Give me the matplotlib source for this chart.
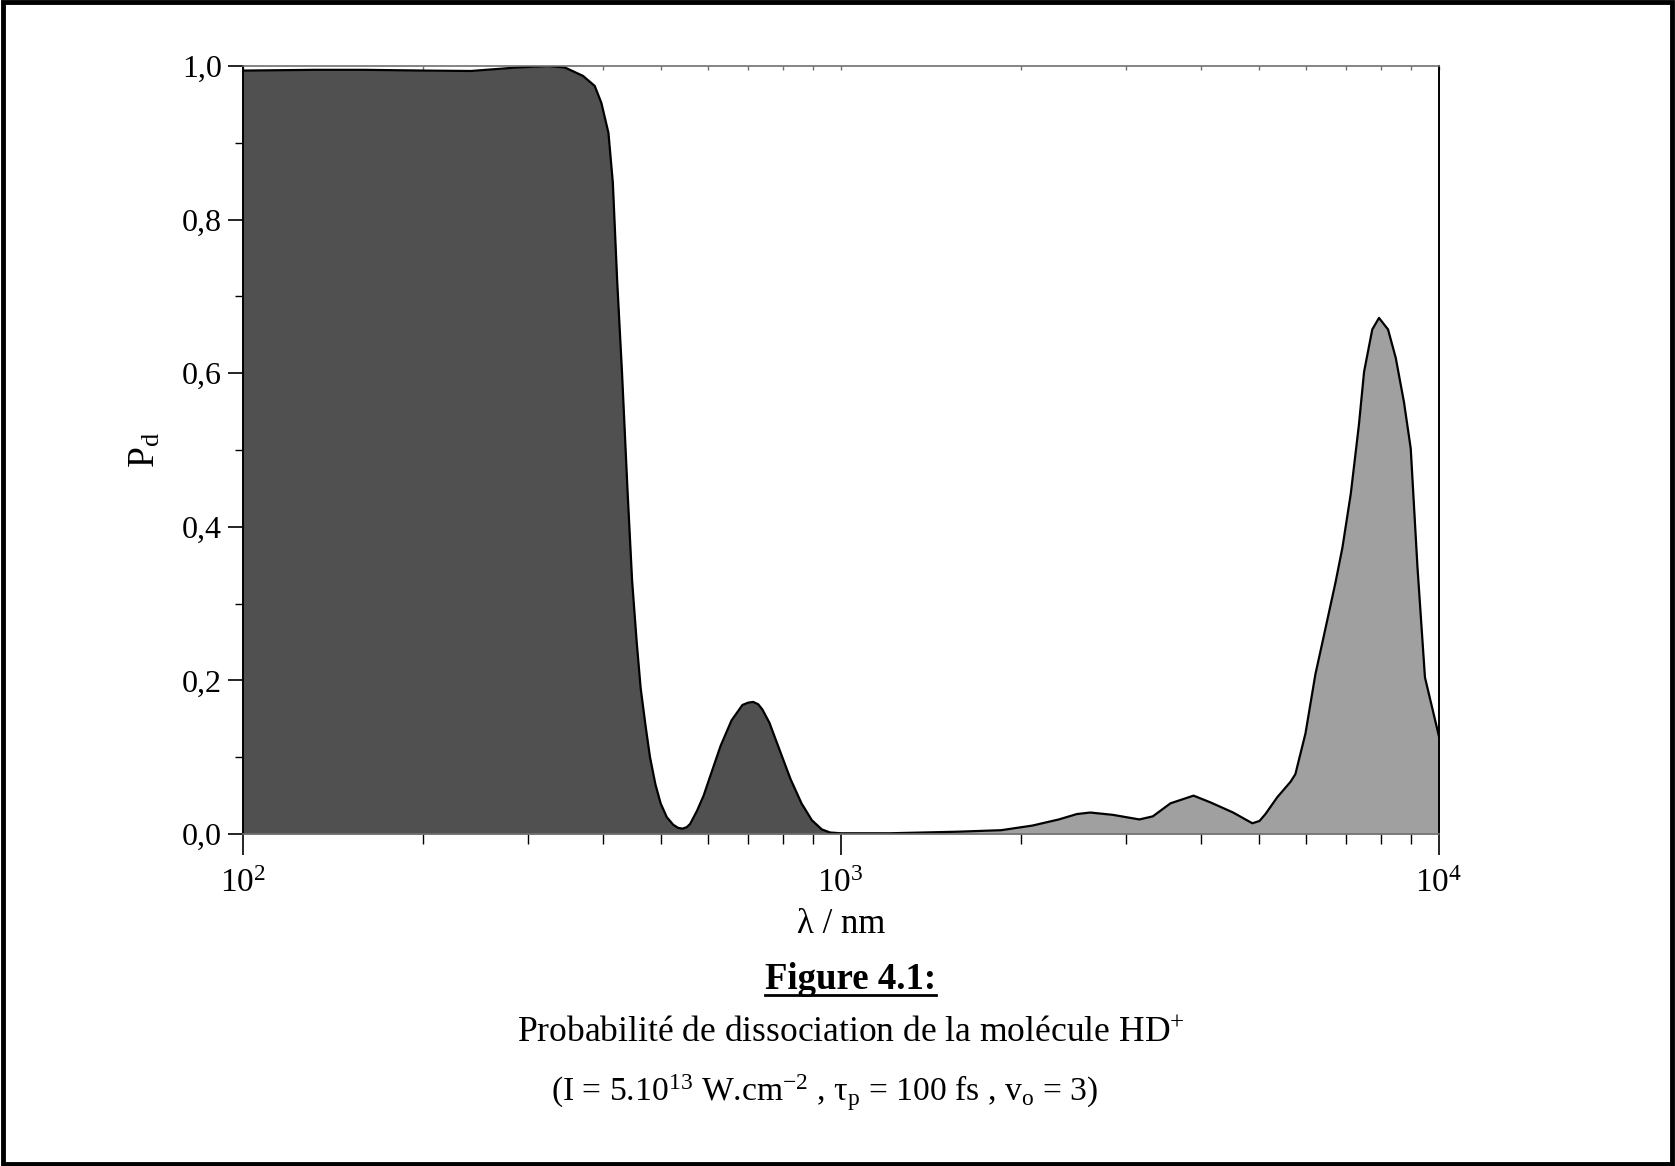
import matplotlib
matplotlib.use("Agg")
import matplotlib.pyplot as plt
import numpy as np
from matplotlib.ticker import FixedLocator, FixedFormatter, NullFormatter
from matplotlib.patches import Rectangle
from matplotlib.lines import Line2D

plt.rcParams['font.family'] = ['Liberation Serif', 'DejaVu Serif']
plt.rcParams['mathtext.fontset'] = 'custom'
plt.rcParams['mathtext.rm'] = 'Liberation Serif'
plt.rcParams['mathtext.it'] = 'Liberation Serif:italic'

# ---- data ----
wl_dark = [100, 132, 160, 203, 241, 287, 324, 346, 371, 388, 398, 409, 416, 423,
           431, 440, 448, 456, 463, 472, 480, 490, 500, 512, 525, 535, 544, 553, 560, 575,
           590, 605, 630, 657, 685, 700, 714, 728, 740, 760, 790, 824, 860, 895, 930, 960, 1000]
pd_dark = [0.994, 0.995, 0.995, 0.994, 0.9935, 0.998, 1.0, 0.998, 0.987, 0.974,
           0.952, 0.913, 0.848, 0.72, 0.60, 0.45, 0.33, 0.25, 0.19, 0.14, 0.10,
           0.065, 0.04, 0.022, 0.012, 0.008, 0.007, 0.009, 0.013, 0.03, 0.05, 0.075, 0.115,
           0.148, 0.168, 0.171, 0.172, 0.169, 0.162, 0.145, 0.11, 0.072, 0.040, 0.018, 0.006,
           0.002, 0.001]

wl_light = [1000, 1208, 1563, 1855, 2091, 2316, 2482, 2613, 2850, 3158, 3325, 3560,
            3890, 4157, 4530, 4878, 5014, 5130, 5370, 5650, 5757, 5985, 6218, 6382,
            6720, 6900, 7125, 7350, 7500, 7740, 7943, 8224, 8472, 8746, 8975, 9210,
            9480, 10000]
pd_light = [0.001, 0.001, 0.003, 0.005, 0.011, 0.019, 0.026, 0.028, 0.025, 0.019,
            0.023, 0.040, 0.050, 0.041, 0.028, 0.014, 0.017, 0.026, 0.048, 0.068,
            0.078, 0.131, 0.208, 0.248, 0.328, 0.373, 0.443, 0.532, 0.602, 0.657,
            0.672, 0.657, 0.620, 0.562, 0.502, 0.348, 0.204, 0.128]

y_ticks = [0.0, 0.2, 0.4, 0.6, 0.8, 1.0]
y_ticklabels = ['0,0', '0,2', '0,4', '0,6', '0,8', '1,0']
x_ticks = [100, 1000, 10000]
x_ticklabels = [r'$\mathregular{10^{2}}$', r'$\mathregular{10^{3}}$', r'$\mathregular{10^{4}}$']

fig = plt.figure(figsize=(16.75, 11.66), dpi=100)
ax = fig.add_axes([0.1448, 0.2847, 0.859 - 0.1448, 0.9434 - 0.2847])

ax.fill_between(wl_dark, pd_dark, 0, color='#505050', linewidth=0, zorder=1)
ax.fill_between(wl_light, pd_light, 0, color='#a0a0a0', linewidth=0, zorder=1)
ax.plot(wl_dark + wl_light[1:], pd_dark + pd_light[1:], color='black', lw=1.6,
        zorder=2, solid_joinstyle='round')

ax.set_xscale('log')
ax.set_xlim(100, 10000)
ax.set_ylim(0, 1.0)

# spines
for s in ['top', 'bottom']:
    ax.spines[s].set_color('#707070')
    ax.spines[s].set_linewidth(1.2)
for s in ['left', 'right']:
    ax.spines[s].set_color('black')
    ax.spines[s].set_linewidth(1.4)

ax.yaxis.set_major_locator(FixedLocator(y_ticks))
ax.yaxis.set_major_formatter(FixedFormatter(y_ticklabels))
ax.yaxis.set_minor_locator(FixedLocator([0.1, 0.3, 0.5, 0.7, 0.9]))
ax.tick_params(axis='y', which='major', direction='out', length=11, width=1.2,
               labelsize=23, pad=4, left=True, right=False)
ax.tick_params(axis='y', which='minor', direction='out', length=6, width=1.0,
               left=True, right=False)

ax.xaxis.set_major_locator(FixedLocator(x_ticks))
ax.xaxis.set_major_formatter(FixedFormatter(x_ticklabels))
minors = [m * d for d in (100, 1000) for m in range(2, 10)]
ax.xaxis.set_minor_locator(FixedLocator(minors))
ax.xaxis.set_minor_formatter(NullFormatter())
ax.tick_params(axis='x', which='major', direction='out', length=15, width=1.2,
               labelsize=24, pad=10, top=False)
ax.tick_params(axis='x', which='minor', direction='out', length=7, width=1.0,
               top=False)

# top-side inward minor ticks
axt = ax.secondary_xaxis('top')
axt.xaxis.set_major_locator(FixedLocator(x_ticks))
axt.xaxis.set_minor_locator(FixedLocator(minors))
axt.xaxis.set_major_formatter(NullFormatter())
axt.xaxis.set_minor_formatter(NullFormatter())
axt.tick_params(axis='x', which='both', direction='in', length=3, width=1.0, colors='#707070')
axt.spines['top'].set_visible(False)

ax.set_xlabel('λ / nm', fontsize=25, labelpad=6)
ax.set_ylabel(r'$\mathregular{P_d}$', fontsize=27, labelpad=14)

# caption
t1 = fig.text(0.508, 0.160, 'Figure 4.1:', ha='center', va='center',
              fontsize=26.5, fontweight='bold')
fig.text(0.508, 0.114, r'Probabilité de dissociation de la molécule HD$\mathregular{^{+}}$',
         ha='center', va='center', fontsize=25.6)
fig.text(0.4925, 0.0627,
         r'(I = 5.10$\mathregular{^{13}}$ W.cm$\mathregular{^{-2}}$ , τ$\mathregular{_p}$ = 100 fs , v$\mathregular{_o}$ = 3)',
         ha='center', va='center', fontsize=24.2)

fig.canvas.draw()
bb = t1.get_window_extent().transformed(fig.transFigure.inverted())
fig.add_artist(Line2D([bb.x0, bb.x1], [bb.y0 + 0.002, bb.y0 + 0.002],
                      transform=fig.transFigure, color='black', lw=2))

# figure frame
fig.add_artist(Rectangle((0.0015, 0.002), 0.997, 0.996, transform=fig.transFigure,
                         fill=False, edgecolor='black', lw=3.5))

fig.savefig('out.png', dpi=100)
